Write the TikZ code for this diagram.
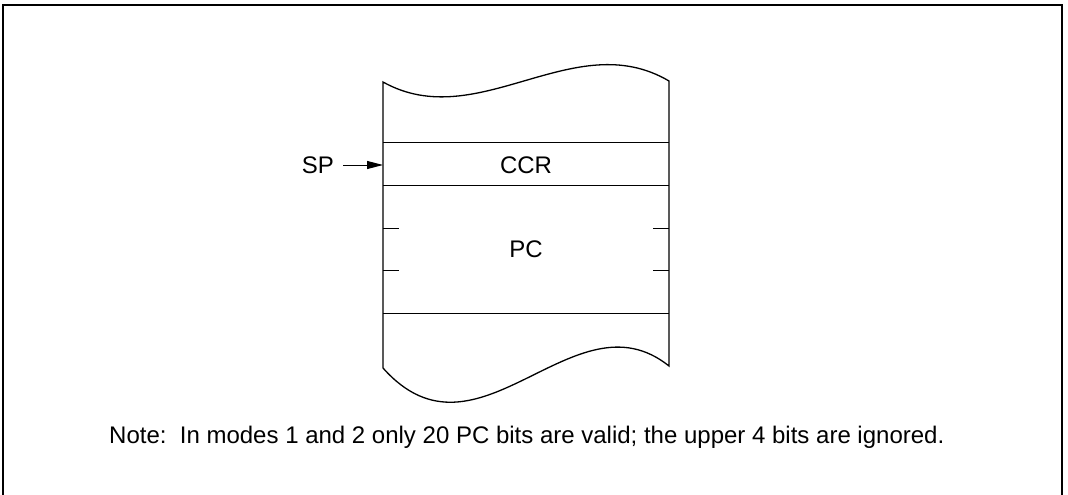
\documentclass[tikz,border=0pt]{standalone}
\usepackage{fontspec}
\setmainfont{Liberation Sans}
\usetikzlibrary{positioning, arrows.meta}
\tikzstyle{textbox}=[rectangle,inner sep=0pt,font=\fontsize{24}{28}\selectfont]
\tikzstyle{framepath}=[line width=1.3pt]
\tikzstyle{cellline}=[line width=1pt]
\tikzstyle{edgepath}=[-{Triangle[length=16pt,width=8pt]},line width=1pt]

\begin{document}
\begin{tikzpicture}[x=1pt,y=-1pt]
    \useasboundingbox (0,0) rectangle (1068,495);
    \draw[framepath] (3,497) -- (3,5) -- (1062,5) -- (1062,497);

    % stack with torn top and bottom
    \coordinate (tl) at (383,82);
    \coordinate (tr) at (669,81);
    \coordinate (bl) at (383,368);
    \coordinate (br) at (669,366);
    \draw[framepath] (tl) .. controls (478,135) and (574,25) .. (tr)
        -- (br) .. controls (574,290) and (478,475) .. (bl) -- cycle;

    \draw[cellline] (383,142) -- (669,142);
    \draw[cellline] (383,185) -- (669,185);
    \draw[cellline] (383,313) -- (669,313);
    \foreach \y in {228,270} {
        \draw[cellline] (383,\y) -- (399,\y);
        \draw[cellline] (653,\y) -- (669,\y);
    }

    \node[textbox] (ccr) at (526,165) {CCR};
    \node[textbox] (pc) at (526,249) {PC};

    \coordinate (spin) at (383,165);
    \node[textbox, left=49pt of spin] (sp) {SP};
    \path[edgepath, shorten <=9pt] (sp) edge (spin);

    \node[textbox, anchor=base west] (note) at (109,443)
        {Note:\ \ In modes 1 and 2 only 20 PC bits are valid; the upper 4 bits are ignored.};
\end{tikzpicture}
\end{document}
